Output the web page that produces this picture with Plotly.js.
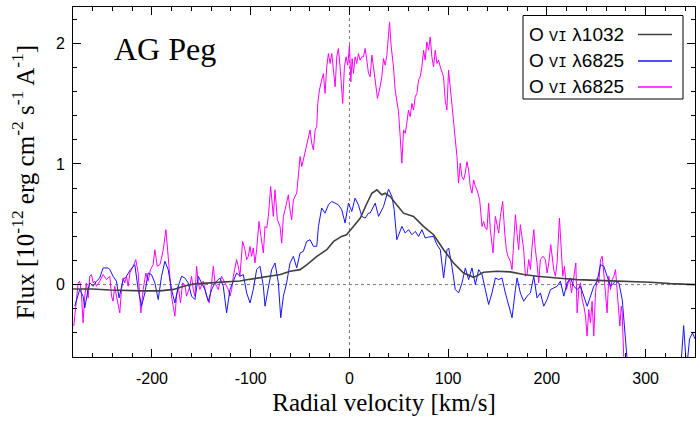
<!DOCTYPE html>
<html><head><meta charset="utf-8">
<script src="https://cdn.plot.ly/plotly-3.0.1.min.js"></script>
<style>html,body{margin:0;padding:0;background:#fff}</style>
</head><body>
<div id="chart" style="width:700px;height:421px"></div>
<script>
// ---- data (radial velocity km/s, flux 1e-12 erg cm^-2 s^-1 A^-1) ----
const starName = "AG Peg";
const legendLabels = ["1032", "6825", "6825"];
const xTitle = "Radial velocity [km/s]";
const yTitle = "Flux [10<sup>-12</sup> erg cm<sup>-2</sup> s<sup>-1</sup> A<sup>-1</sup>]";
const xTickVals = [-200, -100, 0, 100, 200, 300];
const xTickText = ["-200", "-100", "0", "100", "200", "300"];
const yTickVals = [0, 1, 2];
const yTickText = ["0", "1", "2"];

const blackV = [-280,-260,-243,-226,-209,-192,-178,-168,-158,-141,-124,-111,-104,-91,-77,-70,-60,-50,-43,-33,-23,-16,-8,-3,4,11,17.5,22.7,27.8,32.8,36.2,41.3,48,54.8,64.9,75,85.2,95.4,105.5,115.6,125.8,135.9,149.4,163,176.5,190,210.3,230.6,257.6,284.6,304.9,325.1,350];
const blackF = [-0.036,-0.036,-0.045,-0.05,-0.052,-0.052,-0.04,-0.013,0.005,0.014,0.02,0.03,0.04,0.055,0.069,0.083,0.11,0.124,0.165,0.234,0.289,0.358,0.399,0.413,0.482,0.551,0.67,0.757,0.785,0.744,0.757,0.73,0.66,0.592,0.565,0.482,0.413,0.289,0.179,0.096,0.06,0.102,0.11,0.105,0.083,0.069,0.055,0.041,0.033,0.027,0.019,0.008,0.0];

const blueV = [-278.2,-273.2,-269.8,-268.1,-264.7,-263.0,-259.6,-256.3,-252.9,-249.5,-244.4,-242.7,-239.4,-236.0,-233.3,-229.2,-225.8,-221.8,-217.4,-214.0,-210.6,-207.2,-203.9,-200.5,-197.1,-193.7,-190.3,-186.9,-183.6,-180.2,-176.8,-173.4,-170.0,-166.7,-163.3,-159.9,-156.5,-153.1,-149.8,-146.4,-143.0,-139.6,-136.2,-131.2,-127.8,-124.4,-121.0,-117.6,-114.3,-110.9,-107.5,-104.1,-100.7,-97.4,-94.0,-90.6,-87.2,-85.5,-82.1,-78.8,-75.4,-72.0,-69.6,-66.9,-63.6,-60.2,-56.8,-53.4,-50.0,-46.7,-43.3,-39.9,-36.5,-33.1,-31.4,-28.1,-24.7,-21.3,-17.9,-14.5,-11.2,-7.8,-4.4,-1.0,2.4,5.7,9.1,12.5,15.9,19.3,
  21.0,26.1,29.5,34.5,39.6,43.0,45.3,48.0,51.4,53.1,56.5,59.9,63.3,66.7,70.0,73.4,76.8,80.2,85.2,88.6,92.0,95.4,98.8,100.5,103.8,107.2,110.6,114.0,117.4,120.7,124.1,127.5,130.9,134.3,137.6,141.0,144.4,147.8,151.2,154.5,157.9,161.3,164.7,168.1,169.8,173.1,176.5,179.9,183.3,186.7,190.0,193.4,196.8,200.2,203.6,206.9,210.3,213.7,217.1,220.5,223.8,227.2,230.6,234.0,240.8,247.5,250.9,254.3,257.6,261.0,264.4,269.5,272.9,276.3,278.6,280.6,285,333,338.5,341.5,344.5,347.5,350];
const blueF = [-0.179,-0.041,-0.096,-0.193,-0.041,0.014,-0.014,0.028,0.055,0.138,0.138,0.124,0.069,0.028,-0.110,0.041,0.069,0.124,0.165,-0.041,-0.179,-0.069,0.096,0.083,0.014,-0.124,0.069,0.193,0.124,-0.041,-0.152,-0.014,0.069,0.055,0.014,-0.096,-0.124,0.069,0.014,-0.041,-0.138,-0.041,0.014,0.055,-0.014,-0.234,-0.041,0.028,0.096,0.069,0.083,-0.069,-0.152,-0.041,0.124,0.152,-0.014,-0.179,-0.041,0.124,0.179,0.014,-0.275,-0.096,0.014,0.179,0.234,0.138,0.262,0.275,0.358,0.372,0.317,0.317,0.482,0.634,0.592,0.661,0.689,0.675,0.661,0.620,0.510,0.675,0.606,0.716,0.661,0.565,0.551,0.592,
  0.592,0.675,0.565,0.647,0.791,0.730,0.620,0.372,0.455,0.482,0.427,0.455,0.413,0.441,0.399,0.455,0.386,0.394,0.399,0.331,0.289,0.055,0.289,0.303,0.152,-0.041,-0.069,0.014,0.138,0.041,0.138,0.0,0.124,0.083,-0.041,-0.165,-0.069,0.055,0.041,0.055,-0.069,-0.179,-0.275,-0.041,0.055,-0.069,-0.138,-0.096,-0.069,0.069,-0.110,-0.069,-0.179,-0.124,-0.041,-0.028,-0.014,0.028,-0.096,0.014,0.055,-0.014,-0.041,-0.014,-0.179,-0.014,0.028,0.165,0.152,0.069,-0.014,0.028,0.014,-0.124,-0.399,-0.620,-1.0,-1.0,-0.34,-0.70,-0.45,-0.40,-0.45];

const magV = [-279.2,-277.2,-274.8,-273.2,-271.5,-269.8,-268.1,-266.4,-264.7,-263.0,-261.3,-259.6,-257.9,-256.3,-252.9,-249.5,-246.1,-242.7,-241.0,-239.4,-237.7,-236.0,-234.3,-232.6,-230.9,-229.2,-227.5,-225.8,-224.1,-222.4,-219.1,-216.4,-214.0,-212.3,-211.3,-208.9,-206.2,-203.9,-201.5,-198.8,-197.1,-194.7,-192.0,-190.3,-188.6,-185.9,-184.6,-182.6,-180.2,-178.5,-176.8,-175.1,-173.4,-171.1,-169.0,-166.7,-165.0,-161.6,-159.9,-158.2,-156.5,-154.8,-153.1,-151.5,-148.1,-144.7,-142.0,-139.6,-137.9,-136.2,-132.9,-129.5,-126.1,-122.7,-121.0,-119.3,-117.6,-114.3,-112.6,-110.9,-108.2,-105.8,-104.1,-102.4,-100.7,-99.1,-97.4,-95.7,-94.0,-91.6,-89.6,-87.2,-85.5,-83.8,-82.1,-79.8,-77.1,-75.4,-73.0,-70.3,-68.6,-66.9,-65.2,-63.6,-61.9,-60.2,-58.5,-56.8,-53.4,
  -50.0,-48.3,-46.7,-43.9,-41.6,-39.9,-38.2,-36.5,-34.8,-33.1,-32.1,-30.4,-28.1,-26.4,-24.7,-23.0,-21.3,-19.6,-17.9,-16.2,-14.5,-12.8,-11.2,-9.5,-7.8,-6.8,-5.1,-3.4,-1.7,0.0,1.4,2.7,4.1,5.7,7.4,9.1,10.8,12.5,14.2,15.9,17.6,19.3,21.0,22.7,24.3,26.0,28.4,31.1,32.8,34.5,36.2,37.9,40.6,42.3,44.6,46.3,48.0,49.7,51.4,53.1,54.8,56.5,58.1,59.8,61.5,63.2,64.9,66.6,68.3,70.0,71.7,73.4,75.1,76.7,78.4,80.1,81.8,83.5,85.2,86.9,88.6,90.3,92.0,95.3,97.0,98.7,100.4,102.1,103.8,105.5,107.2,108.9,110.5,112.2,113.9,115.6,117.3,119.0,120.7,122.4,124.1,125.8,127.5,129.2,
  131.9,134.3,135.9,137.6,139.3,141.0,142.7,145.4,147.8,149.5,151.2,152.9,155.2,157.3,158.9,160.6,163.0,164.7,166.4,168.1,169.7,171.4,173.1,174.8,176.5,178.2,179.9,181.6,183.3,185.0,186.7,188.3,190.0,191.7,193.4,196.1,198.5,200.2,201.9,203.9,205.2,206.9,208.6,210.3,212.7,214.4,216.1,217.8,219.8,221.5,223.2,224.9,227.2,229.3,230.6,232.3,234.0,235.7,237.4,239.1,240.7,242.4,244.1,245.8,247.5,249.2,250.9,252.6,254.3,256.0,257.6,259.3,261.0,262.7,264.4,266.1,267.8,269.5,271.2,272.9,273.9,275.3,276.2,277.9,279];
const magF = [-0.344,-0.152,0.014,0.028,-0.069,-0.317,-0.096,0.014,-0.110,0.069,0.083,0.014,0.028,-0.014,0.028,0.083,0.041,0.069,-0.096,-0.138,-0.014,-0.096,-0.165,-0.234,-0.041,0.055,0.014,0.069,-0.014,0.096,0.152,0.207,0.096,-0.152,-0.234,-0.041,0.096,0.028,0.124,0.165,0.289,0.152,0.165,0.220,0.289,0.455,0.317,0.152,-0.096,-0.179,-0.262,-0.096,-0.014,-0.152,0.014,0.0,-0.096,-0.014,0.069,-0.041,-0.096,0.152,0.014,-0.041,0.028,-0.096,-0.152,0.014,0.152,0.014,-0.041,0.069,0.014,-0.041,-0.096,-0.041,0.069,0.207,0.152,0.069,0.358,0.289,0.207,0.234,0.317,0.234,0.303,0.179,0.289,0.523,0.399,0.262,0.482,0.468,0.565,0.813,0.565,0.785,0.537,0.482,0.344,0.565,0.620,0.675,0.744,0.620,0.537,0.702,0.758,
  1.061,0.978,1.033,1.143,1.226,1.281,1.171,1.116,1.281,1.309,1.501,1.612,1.694,1.749,1.584,1.804,1.915,1.832,1.915,1.777,1.639,1.887,1.956,1.804,1.639,1.501,1.804,1.887,1.818,1.983,1.680,1.873,1.749,1.887,1.832,1.915,1.860,1.887,1.887,1.956,1.860,1.749,1.722,1.901,1.804,1.694,1.543,1.639,1.722,1.873,1.818,1.901,2.176,1.970,1.804,1.612,1.501,1.433,1.226,1.006,1.281,1.253,1.336,1.446,1.391,1.501,1.446,1.556,1.584,1.694,1.722,1.804,1.942,1.860,2.011,1.942,2.052,1.887,1.804,1.942,1.832,1.860,1.804,1.722,1.529,1.446,1.777,1.639,1.529,1.364,1.253,1.061,0.840,1.006,0.895,0.868,0.923,1.019,0.950,0.813,0.758,0.868,0.813,0.785,
  0.702,0.482,0.523,0.468,0.455,0.675,0.455,0.262,0.565,0.482,0.427,0.565,0.689,0.427,0.289,0.234,0.193,0.124,0.317,0.579,0.427,0.289,0.496,0.399,0.289,0.069,0.083,0.207,0.124,0.317,0.455,0.289,0.179,0.014,0.207,0.234,0.207,0.096,0.179,0.331,0.234,0.124,0.069,0.179,0.551,0.289,0.069,0.152,-0.041,0.014,0.041,-0.069,0.069,0.179,-0.234,-0.041,0.014,-0.124,-0.179,-0.262,-0.427,-0.207,-0.317,-0.138,-0.427,-0.069,0.055,0.014,0.207,0.234,0.096,-0.069,-0.234,0.069,-0.041,0.041,0.069,0.124,-0.069,-0.179,-0.344,-0.179,-0.234,-0.620,-1.0];

const xRange = [-280, 350];
const yRange = [-0.6, 2.3];

// ---- styling ----
const cBlack = "#404040", cBlue = "#1414ff", cMag = "#ff00ff";
const traces = [
  {x: magV, y: magF, type: "scatter", mode: "lines", line: {color: cMag, width: 1}, hoverinfo: "skip"},
  {x: blueV, y: blueF, type: "scatter", mode: "lines", line: {color: cBlue, width: 1}, hoverinfo: "skip"},
  {x: blackV, y: blackF, type: "scatter", mode: "lines", line: {color: cBlack, width: 1.6}, hoverinfo: "skip"}
];

const pL = 73, pT = 7, pW = 622, pH = 350;
const px = v => (v - pL) / pW;      // pixel -> paper x (layout helpers only)
const py = v => (pT + pH - v) / pH;  // pixel -> paper y

const legendColors = [cBlack, cBlue, cMag];
const rowY = [34.5, 61, 87];
const shapes = [
  {type: "line", xref: "x", yref: "paper", x0: 0, x1: 0, y0: 0, y1: 1, line: {color: "#777", width: 1, dash: "dot"}, layer: "below"},
  {type: "line", xref: "paper", yref: "y", x0: 0, x1: 1, y0: 0, y1: 0, line: {color: "#777", width: 1, dash: "dot"}, layer: "below"},
  {type: "rect", xref: "paper", yref: "paper", x0: px(523), x1: px(683), y0: py(99), y1: py(15.5), line: {color: "black", width: 1}, fillcolor: "white", layer: "above"}
];
const annotations = [
  {text: starName, xref: "paper", yref: "paper", x: px(112), y: py(49), xanchor: "left", yanchor: "middle", showarrow: false, font: {family: "Liberation Serif", size: 32, color: "black"}}
];
legendLabels.forEach((lab, i) => {
  shapes.push({type: "line", xref: "paper", yref: "paper", x0: px(638), x1: px(672), y0: py(rowY[i]), y1: py(rowY[i]), line: {color: legendColors[i], width: 1.3}, layer: "above"});
  annotations.push({text: "O <span style=\"font-family:'Liberation Mono';font-size:15px\">VI</span> λ" + lab, xref: "paper", yref: "paper", x: px(527), y: py(rowY[i]), xanchor: "left", yanchor: "middle", showarrow: false, font: {family: "Liberation Sans", size: 19, color: "black"}});
});

const axisCommon = {
  showline: true, linecolor: "black", linewidth: 1, mirror: "ticks",
  ticks: "inside", ticklen: 8, tickwidth: 1, tickcolor: "black",
  showgrid: false, zeroline: false, fixedrange: true, tickmode: "array",
  tickfont: {family: "Liberation Sans", size: 16, color: "black"}
};
const layout = {
  width: 700, height: 421,
  margin: {l: pL, r: 700 - pL - pW, t: pT, b: 421 - pT - pH, pad: 0},
  paper_bgcolor: "white", plot_bgcolor: "white", showlegend: false,
  xaxis: Object.assign({}, axisCommon, {
    range: xRange, tickvals: xTickVals, ticktext: xTickText, ticklabelstandoff: 7,
    minor: {tickmode: "linear", tick0: 0, dtick: 20, ticks: "inside", ticklen: 4, tickcolor: "black", showgrid: false},
    title: {text: xTitle, font: {family: "Liberation Serif", size: 25, color: "black"}, standoff: 7}
  }),
  yaxis: Object.assign({}, axisCommon, {
    range: yRange, tickvals: yTickVals, ticktext: yTickText, ticklabelstandoff: 4,
    minor: {tickmode: "linear", tick0: 0, dtick: 0.2, ticks: "inside", ticklen: 4, tickcolor: "black", showgrid: false},
    title: {text: yTitle, font: {family: "Liberation Serif", size: 25, color: "black"}, standoff: 14}
  }),
  shapes: shapes, annotations: annotations
};
Plotly.newPlot("chart", traces, layout, {displayModeBar: false, staticPlot: true});
</script>
</body></html>
